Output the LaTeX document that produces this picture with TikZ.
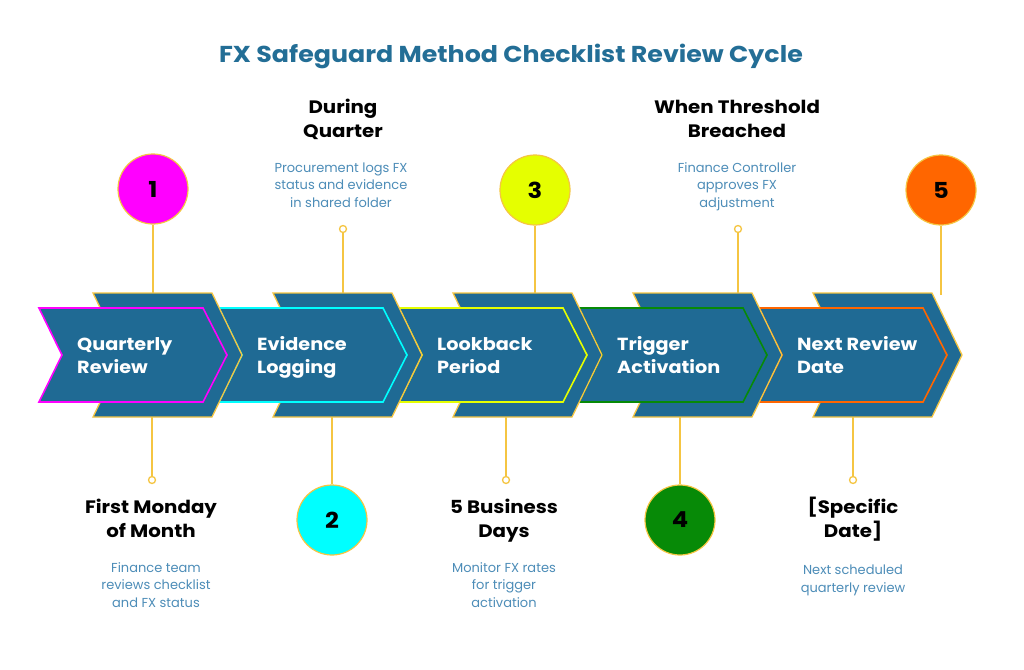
\documentclass[tikz,border=0pt]{standalone}
\usepackage{fontspec}
\setmainfont[FakeStretch=1.1]{Poppins}
\newfontfamily\descfont{Poppins}
\definecolor{chev}{HTML}{1F6A94}
\definecolor{ttl}{HTML}{236E96}
\definecolor{desc}{HTML}{4D8DB8}
\definecolor{gold}{HTML}{F5C542}
\definecolor{cA}{HTML}{FF00FF}
\definecolor{cB}{HTML}{00FFFF}
\definecolor{cC}{HTML}{E5FF00}
\definecolor{cD}{HTML}{078A07}
\definecolor{cE}{HTML}{FF6600}
\tikzset{
  backchev/.style={fill=chev,draw=gold,line width=1.3pt,line join=miter},
  frontchev/.style={fill=chev,line width=1.6pt,line join=miter},
  chevtext/.style={anchor=west,align=left,text=white,font=\bfseries\fontsize{17.5}{23}\selectfont,inner sep=0pt},
  numcirc/.style={circle,minimum size=70pt,draw=gold,line width=1.2pt,font=\bfseries\fontsize{22}{24}\selectfont,text=black,inner sep=0pt},
  dot/.style={circle,minimum size=7pt,inner sep=0pt,draw=gold,fill=white,line width=1.3pt},
  conn/.style={draw=gold,line width=1.4pt},
  head/.style={align=center,font=\bfseries\fontsize{18}{24}\selectfont,text=black,inner sep=0pt},
  dsc/.style={align=center,font=\descfont\fontsize{13}{17.5}\selectfont,text=desc,inner sep=0pt},
}
\begin{document}
\begin{tikzpicture}[x=1pt,y=-1pt]
\useasboundingbox (0,0) rectangle (1024,669);
\fill[white] (0,0) rectangle (1024,669);
\node[font=\bfseries\fontsize{23}{26}\selectfont,text=ttl,inner sep=0pt] (title) at (511,56) {FX Safeguard Method Checklist Review Cycle};
% chevrons, drawn from step 5 down to step 1
\foreach \i/\col/\la/\lb in {5/cE/Next Review/Date,4/cD/Trigger/Activation,3/cC/Lookback/Period,2/cB/Evidence/Logging,1/cA/Quarterly/Review}{
  \pgfmathsetmacro{\dx}{180*(\i-1)}
  \begin{scope}[xshift=\dx*1pt]
    \draw[backchev] (93,293) -- (212,293) -- (242,355) -- (212,417) -- (93,417) -- (123,355) -- cycle;
    \draw[frontchev,draw=\col] (39,308) -- (203,308) -- (227,355) -- (203,402) -- (39,402) -- (62,355) -- cycle;
    \node[chevtext] (lab\i) at (77,357) {\la\strut\\\lb\strut};
  \end{scope}
}
% number circles
\node[numcirc,fill=cA] (n1) at (153,189) {1};
\node[numcirc,fill=cB] (n2) at (332,520) {2};
\node[numcirc,fill=cC] (n3) at (535,190) {3};
\node[numcirc,fill=cD] (n4) at (680,520) {4};
\node[numcirc,fill=cE] (n5) at (941,190) {5};
% anchor coordinates on chevrons
\coordinate (t1) at (153,293);
\coordinate (t2) at (343,293);
\coordinate (t3) at (535,293);
\coordinate (t4) at (738,293);
\coordinate (t5) at (941,295);
\coordinate (b1) at (152,417);
\coordinate (b2) at (332,417);
\coordinate (b3) at (506,417);
\coordinate (b4) at (680,417);
\coordinate (b5) at (853,417);
% small dots
\node[dot] (d2) at (343,229) {};
\node[dot] (d4) at (738,229) {};
\node[dot] (d1) at (152,480) {};
\node[dot] (d3) at (506,480) {};
\node[dot] (d5) at (853,480) {};
% connectors
\draw[conn] (n1.south) -- (t1);
\draw[conn] (d2.south) -- (t2);
\draw[conn] (n3.south) -- (t3);
\draw[conn] (d4.south) -- (t4);
\draw[conn] (n5.south) -- (t5);
\draw[conn] (b1) -- (d1.north);
\draw[conn] (b2) -- (n2.north);
\draw[conn] (b3) -- (d3.north);
\draw[conn] (b4) -- (n4.north);
\draw[conn] (b5) -- (d5.north);
% labels
\node[head] (h2) at (343,121) {During\strut\\Quarter\strut};
\node[dsc] (s2) at (341,186) {Procurement logs FX\strut\\status and evidence\strut\\in shared folder\strut};
\node[head] (h4) at (737,121) {When Threshold\strut\\Breached\strut};
\node[dsc] (s4) at (737,186) {Finance Controller\strut\\approves FX\strut\\adjustment\strut};
\node[head] (h1) at (151,521) {First Monday\strut\\of Month\strut};
\node[dsc] (s1) at (156,586) {Finance team\strut\\reviews checklist\strut\\and FX status\strut};
\node[head] (h3) at (504,521) {5 Business\strut\\Days\strut};
\node[dsc] (s3) at (504,586) {Monitor FX rates\strut\\for trigger\strut\\activation\strut};
\node[head] (h5) at (853,521) {[Specific\strut\\Date]\strut};
\node[dsc] (s5) at (853,580) {Next scheduled\strut\\quarterly review\strut};
\end{tikzpicture}
\end{document}
